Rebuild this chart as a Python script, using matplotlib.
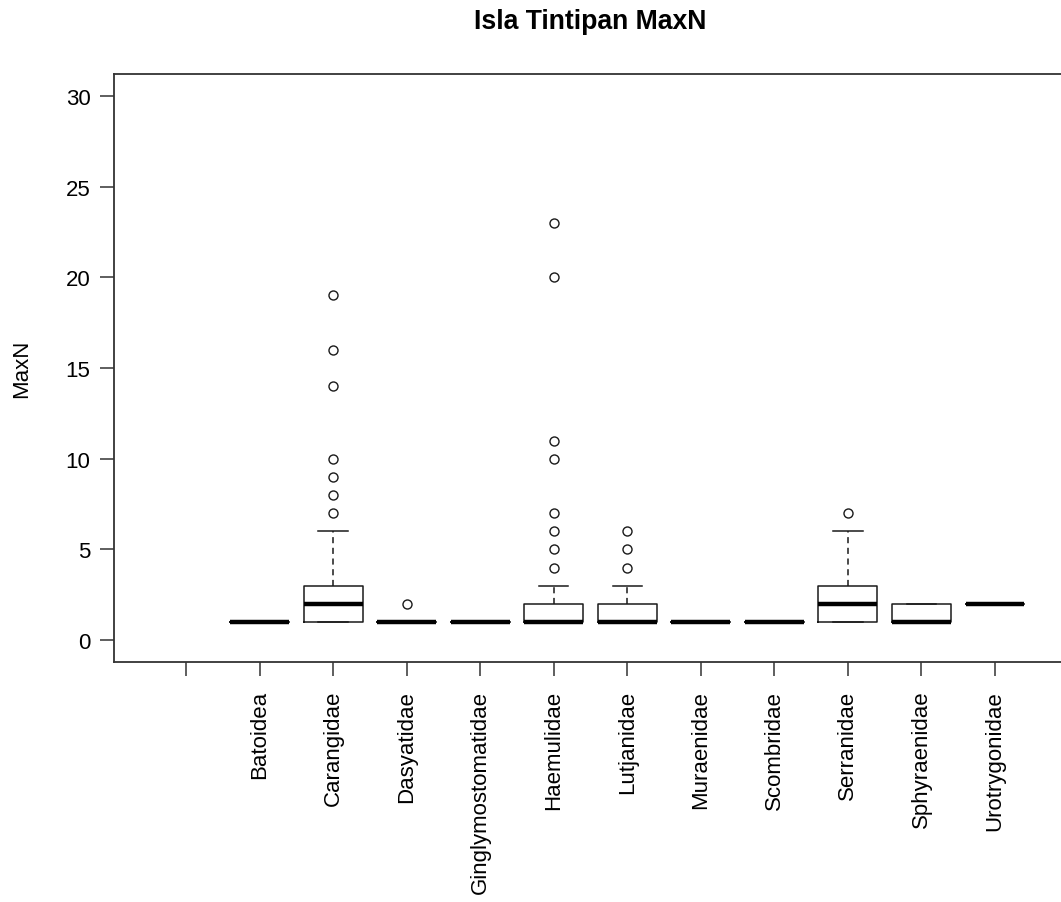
import matplotlib
matplotlib.use("Agg")
import matplotlib.pyplot as plt

plt.rcParams['font.family'] = ['Liberation Sans', 'DejaVu Sans']

# ===== 数据 =====
families = ["", "Batoidea", "Carangidae", "Dasyatidae", "Ginglymostomatidae",
            "Haemulidae", "Lutjanidae", "Muraenidae", "Scombridae",
            "Serranidae", "Sphyraenidae", "Urotrygonidae"]
# five-number summaries for the families with data (positions 2..12)
q1 = [1, 1, 1, 1, 1, 1, 1, 1, 1, 1, 2]
med = [1, 2, 1, 1, 1, 1, 1, 1, 2, 1, 2]
q3 = [1, 3, 1, 1, 2, 2, 1, 1, 3, 2, 2]
whislo = [1, 1, 1, 1, 1, 1, 1, 1, 1, 1, 2]
whishi = [1, 6, 1, 1, 3, 3, 1, 1, 6, 2, 2]
outliers = [[], [7, 8, 9, 10, 14, 16, 19], [2], [],
            [4, 5, 6, 7, 10, 11, 20, 23], [4, 5, 6], [], [], [7], [], []]

stats = []
for i in range(len(med)):
    stats.append(dict(q1=q1[i], med=med[i], q3=q3[i], whislo=whislo[i],
                      whishi=whishi[i], fliers=outliers[i]))
positions = list(range(2, len(families) + 1))

# ===== 绘图 =====
fig = plt.figure(figsize=(10.61, 9.03), dpi=100)
W, H = 1061, 903
ax = fig.add_axes([114 / W, 1 - 663 / H, (1067 - 114) / W, (663 - 75) / H])

col = "#1a1a1a"
ax.bxp(stats, positions=positions, widths=0.8, showfliers=True,
       boxprops=dict(color=col, linewidth=1.1),
       medianprops=dict(color="black", linewidth=3.2, solid_capstyle="butt"),
       whiskerprops=dict(color=col, linewidth=1.1, linestyle=(0, (4, 3))),
       capprops=dict(color=col, linewidth=1.1),
       capwidths=0.4,
       flierprops=dict(marker="o", markerfacecolor="none", markeredgecolor=col,
                       markersize=6.5, markeredgewidth=1.0))

n = len(families)
ax.set_xlim(0.5 - 0.04 * n, n + 0.5 + 0.04 * n)
ax.set_ylim(-1.2, 31.2)
ax.set_xticks(range(1, n + 1))
ax.set_xticklabels(families, rotation=90, va="top", ha="center", fontsize=16)
ax.set_yticks(range(0, 31, 5))
ax.tick_params(axis="y", labelsize=16, length=10, width=1.1, color="#333333", pad=7)
ax.tick_params(axis="x", length=10, width=1.1, color="#333333", pad=10)
for s in ax.spines.values():
    s.set_color("#333333")
    s.set_linewidth(1.3)

ax.set_ylabel("MaxN", fontsize=16, labelpad=24)
fig.text(590 / W, 1 - 22 / H, "Isla Tintipan MaxN", ha="center", va="center",
         fontsize=19.2, fontweight="bold")

fig.savefig("out.png", dpi=100)
